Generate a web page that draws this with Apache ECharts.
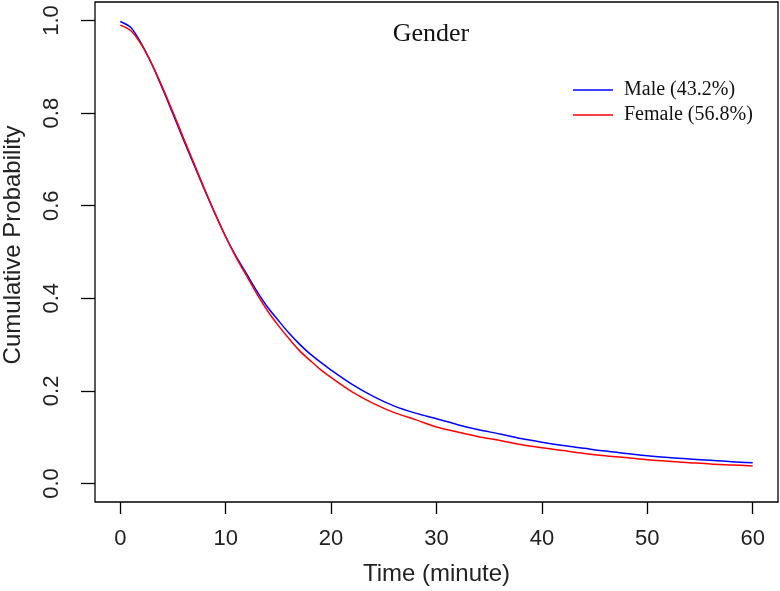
<!DOCTYPE html>
<html>
<head>
<meta charset="utf-8">
<script src="https://cdn.jsdelivr.net/npm/echarts@6/dist/echarts.min.js"></script>
<style>html,body{margin:0;padding:0;background:#fff;}#chart{width:780px;height:591px;}</style>
</head>
<body>
<div id="chart"></div>
<script>
var times = [0, 1, 2, 3, 4, 5, 6, 7, 8, 9, 10, 11, 12, 13, 14, 15, 16, 17, 18, 19, 20, 22, 24, 26, 28, 30, 32, 34, 36, 38, 40, 42, 44, 46, 48, 50, 52, 54, 56, 58, 60];
var male = [0.998, 0.985, 0.950, 0.905, 0.853, 0.798, 0.742, 0.688, 0.634, 0.582, 0.533, 0.490, 0.452, 0.414, 0.380, 0.352, 0.325, 0.301, 0.280, 0.262, 0.245, 0.214, 0.188, 0.167, 0.152, 0.140, 0.127, 0.116, 0.107, 0.097, 0.089, 0.082, 0.076, 0.070, 0.065, 0.060, 0.056, 0.053, 0.050, 0.047, 0.045];
var female = [0.990, 0.978, 0.948, 0.906, 0.856, 0.802, 0.746, 0.691, 0.636, 0.583, 0.533, 0.488, 0.448, 0.408, 0.372, 0.341, 0.313, 0.287, 0.266, 0.246, 0.229, 0.198, 0.173, 0.153, 0.138, 0.122, 0.111, 0.101, 0.093, 0.084, 0.077, 0.071, 0.065, 0.060, 0.056, 0.051, 0.048, 0.045, 0.042, 0.040, 0.038];
var xTicks = [0, 10, 20, 30, 40, 50, 60];
var yTicks = [0, 0.2, 0.4, 0.6, 0.8, 1.0];
var seriesNames = ['Male (43.2%)', 'Female (56.8%)'];

function pairs(xs, ys) { return xs.map(function (x, i) { return [x, ys[i]]; }); }

var chart = echarts.init(document.getElementById('chart'), null, { renderer: 'canvas' });
var sans = 'Liberation Sans, Arial, sans-serif';
var serif = 'Liberation Serif, Times New Roman, serif';
chart.setOption({
  animation: false,
  backgroundColor: '#fff',
  grid: { left: 95, right: 2, top: 2, bottom: 87, show: true, borderColor: '#000', borderWidth: 1.3, backgroundColor: 'transparent' },
  xAxis: {
    type: 'value', min: -2.4, max: 62.4,
    axisLine: { show: false, onZero: false },
    splitLine: { show: false },
    axisTick: { show: true, customValues: xTicks, length: 12, lineStyle: { color: '#000', width: 1.3 } },
    axisLabel: { customValues: xTicks, margin: 26, fontSize: 22, color: '#222', fontFamily: sans },
    name: 'Time (minute)', nameLocation: 'middle', nameGap: 60,
    nameTextStyle: { fontSize: 24, color: '#222', fontFamily: sans }
  },
  yAxis: {
    type: 'value', min: -0.04, max: 1.04,
    axisLine: { show: false, onZero: false },
    splitLine: { show: false },
    axisTick: { show: true, customValues: yTicks, length: 14, lineStyle: { color: '#000', width: 1.3 } },
    axisLabel: { customValues: yTicks, rotate: 90, margin: 32, fontSize: 22, color: '#222', fontFamily: sans,
      formatter: function (v) { return v.toFixed(1); } }
  },
  legend: {
    orient: 'vertical', left: 568, top: 75, itemWidth: 40, itemHeight: 1.5, itemGap: 5,
    icon: 'rect',
    textStyle: { fontSize: 20, fontFamily: serif, color: '#111', padding: [0, 0, 0, 6] },
    data: seriesNames
  },
  graphic: [
    { type: 'text', x: 431, y: 34, style: { text: 'Gender', font: '26px ' + serif, fill: '#111', align: 'center', verticalAlign: 'middle' } },
    { type: 'text', x: 13, y: 245, rotation: Math.PI / 2, style: { text: 'Cumulative Probability', font: '24px ' + sans, fill: '#222', align: 'center', verticalAlign: 'middle' } }
  ],
  series: [
    { name: seriesNames[0], type: 'line', data: pairs(times, male), showSymbol: false, symbol: 'none', smooth: 0.3,
      lineStyle: { color: '#0000ff', width: 1.5 }, itemStyle: { color: '#0000ff' } },
    { name: seriesNames[1], type: 'line', data: pairs(times, female), showSymbol: false, symbol: 'none', smooth: 0.3,
      lineStyle: { color: '#ff0000', width: 1.5 }, itemStyle: { color: '#ff0000' } }
  ]
});
</script>
</body>
</html>
